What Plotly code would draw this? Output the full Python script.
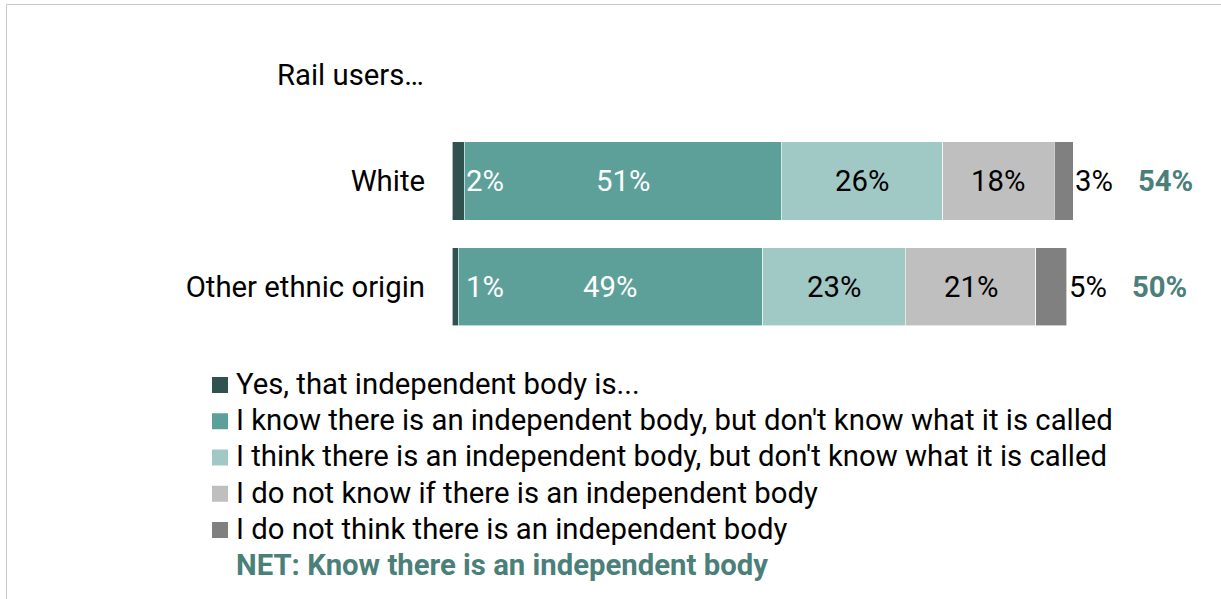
import plotly.graph_objects as go

categories = ["White", "Other ethnic origin"]
series_names = [
    "Yes, that independent body is...",
    "I know there is an independent body, but don't know what it is called",
    "I think there is an independent body, but don't know what it is called",
    "I do not know if there is an independent body",
    "I do not think there is an independent body",
]
values = [
    [2, 1],
    [51, 49],
    [26, 23],
    [18, 21],
    [3, 5],
]
net_values = [54, 50]
net_label = "NET: Know there is an independent body"
group_label = "Rail users…"

colors = ["#2f524f", "#5da09a", "#a0c8c4", "#bfbfbf", "#808080"]
label_colors = ["white", "white", "black", "black", "black"]
NET_COLOR = "#4a7f7a"
FONT = "Roboto"
FS = 29.3

W, H = 1221, 599
X0_PX = 452
PX_PER_UNIT = 6.21

fig = go.Figure()
for name, vals, col in zip(series_names, values, colors):
    fig.add_trace(go.Bar(
        y=categories, x=vals, name=name, orientation="h",
        marker=dict(color=col, line=dict(color="white", width=0.6)),
        width=0.74, hoverinfo="skip", showlegend=False,
    ))

annotations = []
for ci, cat in enumerate(categories):
    cum = 0
    total = sum(v[ci] for v in values)
    for si, vals in enumerate(values):
        v = vals[ci]
        fnt = dict(family=FONT, size=FS, color=label_colors[si])
        if si == 0:
            annotations.append(dict(x=cum, y=cat, xref="x", yref="y", text=f"{v}%",
                                    showarrow=False, xanchor="left", xshift=12, font=fnt))
        elif si == len(values) - 1:
            annotations.append(dict(x=cum + v, y=cat, xref="x", yref="y", text=f"{v}%",
                                    showarrow=False, xanchor="left", xshift=0, font=fnt))
        else:
            annotations.append(dict(x=cum + v / 2, y=cat, xref="x", yref="y", text=f"{v}%",
                                    showarrow=False, xanchor="center", font=fnt))
        cum += v
    annotations.append(dict(x=total, y=cat, xref="x", yref="y", text=f"<b>{net_values[ci]}%</b>",
                            showarrow=False, xanchor="left", xshift=63,
                            font=dict(family=FONT, size=FS, color=NET_COLOR)))

annotations.append(dict(x=426 / W, y=1 - 75 / H, xref="paper", yref="paper", text=group_label,
                        showarrow=False, xanchor="right", yanchor="middle",
                        font=dict(family=FONT, size=FS, color="black")))

# manual legend (swatch + text rows)
shapes = [dict(type="rect", xref="paper", yref="paper", x0=6.5 / W, x1=1.2,
               y0=-0.2, y1=1 - 4.5 / H, line=dict(color="#c8c8c8", width=1), layer="below")]
ROW0, ROW_STEP = 384, 36.25
for i, (name, col) in enumerate(zip(series_names, colors)):
    cy = ROW0 + ROW_STEP * i
    shapes.append(dict(type="rect", xref="paper", yref="paper",
                       x0=212 / W, x1=228 / W, y0=1 - (cy + 9) / H, y1=1 - (cy - 7) / H,
                       line=dict(width=0), fillcolor=col))
    annotations.append(dict(x=234 / W, y=1 - cy / H, xref="paper", yref="paper", text=name,
                            showarrow=False, xanchor="left", yanchor="middle",
                            font=dict(family=FONT, size=FS, color="black")))
annotations.append(dict(x=234 / W, y=1 - 565 / H, xref="paper", yref="paper",
                        text=f"<b>{net_label}</b>", showarrow=False, xanchor="left", yanchor="middle",
                        font=dict(family=FONT, size=FS, color=NET_COLOR)))

fig.update_layout(
    width=W, height=H,
    barmode="stack",
    margin=dict(l=0, r=0, t=0, b=0),
    paper_bgcolor="white", plot_bgcolor="white",
    font=dict(family=FONT, size=FS, color="black"),
    xaxis=dict(domain=[X0_PX / W, 1], range=[0, (W - X0_PX) / PX_PER_UNIT],
               visible=False, fixedrange=True),
    yaxis=dict(categoryorder="array", categoryarray=categories,
               range=[(H - 181) / 105.6, -181 / 105.6],
               showgrid=False, zeroline=False, showline=False, ticks="",
               ticklabelstandoff=26, tickfont=dict(family=FONT, size=FS, color="black")),
    showlegend=False,
    annotations=annotations,
    shapes=shapes,
)

fig.write_html("out.html", config={"displayModeBar": False},
               post_script="document.body.style.margin='0';")
